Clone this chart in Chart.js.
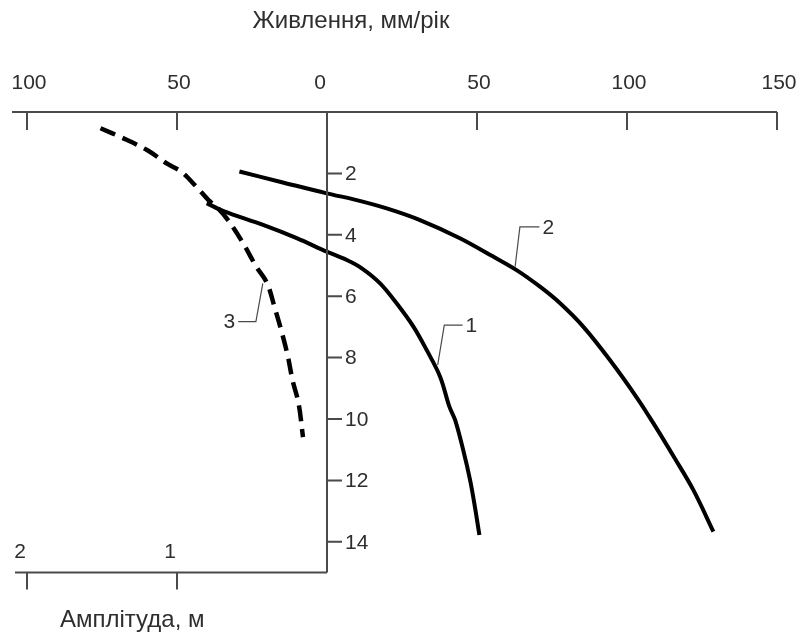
<!DOCTYPE html>
<html lang="uk">
<head>
  <meta charset="UTF-8" />
  <title>Живлення та амплітуда</title>
  <script src="https://cdn.jsdelivr.net/npm/chart.js"></script>
  <style>
    * { margin: 0; padding: 0; }
    body { background: #fff; }
    .wrap { position: relative; width: 801px; height: 634px; }
  </style>
</head>
<body>
  <div class="wrap"><canvas id="chart"></canvas></div>
  <script>
    // supply, mm/yr (x) vs depth, m (y)
    const curve1X = [-40.1, -34.7, -21.3, -10.1, -0.1, 6.6, 11.6, 17.7, 23.2, 28.8, 33.2, 37.7, 40.8, 42.7, 45.4, 47.7, 49.3, 50.8];
    const curve1Y = [2.97, 3.22, 3.68, 4.11, 4.55, 4.82, 5.09, 5.58, 6.23, 6.99, 7.75, 8.62, 9.60, 10.03, 11.01, 11.99, 12.86, 13.78];

    const curve2X = [-29.2, -15.7, -0.1, 9.9, 19.9, 31.0, 44.3, 55.4, 63.2, 71.0, 77.7, 85.4, 94.3, 103.6, 109.5, 115.6, 122.1, 128.8];
    const curve2Y = [1.94, 2.27, 2.65, 2.87, 3.14, 3.52, 4.11, 4.71, 5.15, 5.69, 6.23, 6.99, 8.08, 9.35, 10.25, 11.23, 12.31, 13.67];

    // amplitude, m (x) vs depth, m (y)
    const curve3A = [1.51, 1.36, 1.20, 1.06, 0.97, 0.87, 0.79, 0.73, 0.66, 0.56, 0.47, 0.40, 0.35, 0.30, 0.26, 0.23, 0.19, 0.16];
    const curve3Y = [0.53, 0.85, 1.24, 1.70, 1.95, 2.44, 2.87, 3.12, 3.52, 4.27, 5.05, 5.57, 6.35, 7.20, 7.98, 8.73, 9.48, 10.59];

    const supplyTicks = [-100, -50, 0, 50, 100, 150];
    const depthTicks = [2, 4, 6, 8, 10, 12, 14];
    const ampTicks = [2, 1];

    // curve labels: leader line points (supply, depth) and text
    const callouts = [
      { text: '1', pts: [[36.9, 8.24], [39.1, 6.94], [45.2, 6.94]], side: 'right' },
      { text: '2', pts: [[62.7, 5.04], [64.3, 3.74], [70.8, 3.74]], side: 'right' },
      { text: '3', pts: [[-21.4, 5.58], [-23.7, 6.83], [-29.6, 6.83]], side: 'left' }
    ];

    const zip = (xs, ys) => xs.map((x, i) => ({ x, y: ys[i] }));

    const FONT = '21px "Liberation Sans", Arial, sans-serif';
    const TITLE_FONT = '24px "Liberation Sans", Arial, sans-serif';
    const TXT = '#2e2e2e';
    const AX = '#4a4a4a';

    const axesPlugin = {
      id: 'axes',
      afterDatasetsDraw(chart) {
        const { ctx } = chart;
        const x = chart.scales.x, y = chart.scales.y, xa = chart.scales.xa;
        const y0 = y.getPixelForValue(0);
        const x0 = x.getPixelForValue(0);
        const yEnd = y.getPixelForValue(15);
        ctx.save();
        ctx.strokeStyle = AX;
        ctx.lineWidth = 2;
        ctx.fillStyle = TXT;
        ctx.font = FONT;

        // top axis
        ctx.beginPath();
        ctx.moveTo(x.left, y0); ctx.lineTo(x.getPixelForValue(150), y0);
        supplyTicks.forEach(v => {
          const px = x.getPixelForValue(v);
          ctx.moveTo(px, y0); ctx.lineTo(px, y0 + 18);
        });
        // vertical axis
        ctx.moveTo(x0, y0); ctx.lineTo(x0, yEnd);
        depthTicks.forEach(v => {
          const py = y.getPixelForValue(v);
          ctx.moveTo(x0, py); ctx.lineTo(x0 + 15, py);
        });
        // bottom axis (amplitude)
        ctx.moveTo(xa.getPixelForValue(2.08), yEnd); ctx.lineTo(x0, yEnd);
        ampTicks.forEach(v => {
          const px = xa.getPixelForValue(v);
          ctx.moveTo(px, yEnd); ctx.lineTo(px, yEnd + 17);
        });
        ctx.stroke();

        ctx.textAlign = 'center';
        ctx.textBaseline = 'middle';
        supplyTicks.forEach(v => {
          ctx.fillText(String(Math.abs(v)), x.getPixelForValue(v) + (v === 0 ? -7 : 2), y0 - 29);
        });
        ctx.textAlign = 'left';
        depthTicks.forEach(v => {
          ctx.fillText(String(v), x0 + 18, y.getPixelForValue(v) + 1);
        });
        ctx.textAlign = 'center';
        ampTicks.forEach(v => {
          ctx.fillText(String(v), xa.getPixelForValue(v) - 7, yEnd - 20);
        });

        ctx.font = TITLE_FONT;
        ctx.fillText('Живлення, мм/рік', 351, 21);
        ctx.textAlign = 'left';
        ctx.fillText('Амплітуда, м', 60, 620);

        // callouts
        ctx.font = FONT;
        ctx.lineWidth = 1.2;
        callouts.forEach(c => {
          ctx.beginPath();
          c.pts.forEach((p, i) => {
            const px = x.getPixelForValue(p[0]), py = y.getPixelForValue(p[1]);
            if (i === 0) ctx.moveTo(px, py); else ctx.lineTo(px, py);
          });
          ctx.stroke();
          const last = c.pts[c.pts.length - 1];
          const lx = x.getPixelForValue(last[0]), ly = y.getPixelForValue(last[1]);
          ctx.textAlign = c.side === 'right' ? 'left' : 'right';
          ctx.fillText(c.text, c.side === 'right' ? lx + 3 : lx - 3, ly + 1);
        });
        ctx.restore();
      }
    };

    new Chart(document.getElementById('chart'), {
      type: 'scatter',
      data: {
        datasets: [
          { label: '1', data: zip(curve1X, curve1Y), xAxisID: 'x', yAxisID: 'y',
            borderColor: '#000', borderWidth: 4, tension: 0.35 },
          { label: '2', data: zip(curve2X, curve2Y), xAxisID: 'x', yAxisID: 'y',
            borderColor: '#000', borderWidth: 4, tension: 0.35 },
          { label: '3', data: zip(curve3A, curve3Y), xAxisID: 'xa', yAxisID: 'y',
            borderColor: '#000', borderWidth: 4.5, borderDash: [16, 8], tension: 0.35 }
        ]
      },
      options: {
        responsive: true,
        maintainAspectRatio: false,
        animation: false,
        showLine: true,
        elements: { point: { radius: 0, hoverRadius: 0 }, line: { borderCapStyle: 'butt' } },
        layout: { padding: { left: 12, right: 21, top: 112, bottom: 61.5 } },
        plugins: { legend: { display: false }, tooltip: { enabled: false } },
        scales: {
          x: { type: 'linear', display: false, min: -105, max: 151 },
          xa: { type: 'linear', display: false, min: -3.02, max: 2.1, reverse: true },
          y: { type: 'linear', display: false, min: 0, max: 15, reverse: true }
        }
      },
      plugins: [axesPlugin]
    });
  </script>
</body>
</html>
